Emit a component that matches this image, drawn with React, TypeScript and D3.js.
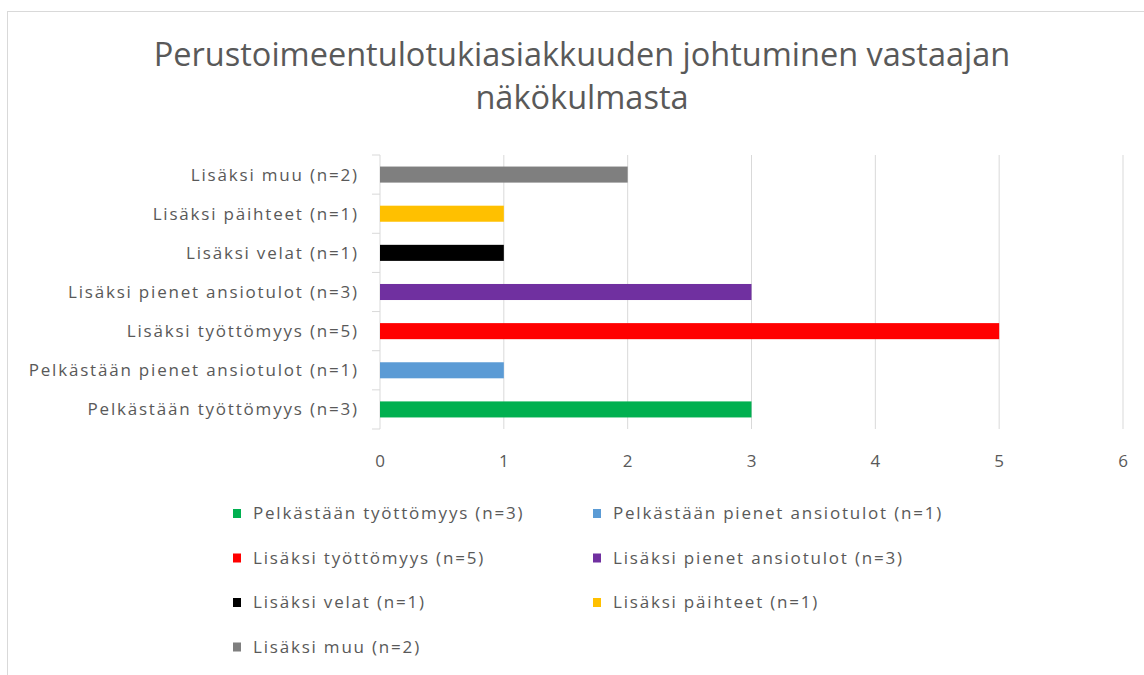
import React from 'react';
import * as d3 from 'd3';

const titleLines = ['Perustoimeentulotukiasiakkuuden johtuminen vastaajan', 'näkökulmasta'];

// data order as in the source sheet (first one is drawn at the bottom)
const categories = [
  'Pelkästään työttömyys (n=3)',
  'Pelkästään pienet ansiotulot (n=1)',
  'Lisäksi työttömyys (n=5)',
  'Lisäksi pienet ansiotulot (n=3)',
  'Lisäksi velat (n=1)',
  'Lisäksi päihteet (n=1)',
  'Lisäksi muu (n=2)',
];
const values = [3, 1, 5, 3, 1, 1, 2];
const colors = ['#00b050', '#5b9bd5', '#ff0000', '#7030a0', '#000000', '#ffc000', '#7f7f7f'];
const xTicks = [0, 1, 2, 3, 4, 5, 6];

const width = 1144;
const height = 675;
const font = '"Open Sans", "Noto Sans", sans-serif';
const textColor = '#595959';
const gridColor = '#d9d9d9';
const labelSize = 17;
const labelSpacing = 1.8; // the original text is rendered quite spaced out

const App = () => {
  const x = d3.scaleLinear().domain([0, 6]).range([380, 1123]);
  const y = d3
    .scaleBand<string>()
    .domain(categories.slice().reverse())
    .range([155, 429])
    .paddingInner(0.59)
    .paddingOuter(0.295);
  const step = y.step();
  const bandTop = (c: string) => (y(c) as number) - y.paddingOuter() * step;

  // legend goes row by row, two columns
  const legendX = d3.scaleOrdinal<number, number>().domain([0, 1]).range([233, 593]);
  const legendY = d3.scaleLinear().domain([0, 3]).range([513.5, 647]);

  return (
    <>
      <style>{`body{margin:0}`}</style>
      <svg width={width} height={height} style={{ display: 'block', background: '#fff' }}>
        <rect x={7.5} y={11.5} width={width} height={height} fill="#fff" stroke={gridColor} />

        {titleLines.map((t, i) => (
          <text
            key={t}
            x={582}
            y={66 + i * 43}
            textAnchor="middle"
            fontFamily={font}
            fontSize={32.5}
            fill={textColor}
          >
            {t}
          </text>
        ))}

        {/* gridlines */}
        {xTicks.slice(1).map(t => (
          <line
            key={t}
            x1={x(t)}
            x2={x(t)}
            y1={155}
            y2={429}
            stroke={gridColor}
            strokeWidth={1}
          />
        ))}

        {/* category axis */}
        <line x1={x(0)} x2={x(0)} y1={155} y2={429} stroke={gridColor} />
        {categories.map(c => (
          <line key={c} x1={x(0) - 8} x2={x(0)} y1={bandTop(c)} y2={bandTop(c)} stroke={gridColor} />
        ))}
        <line x1={x(0) - 8} x2={x(0)} y1={429} y2={429} stroke={gridColor} />

        {categories.map(c => (
          <text
            key={c}
            x={357 + labelSpacing}
            y={(y(c) as number) + y.bandwidth() / 2}
            dy="0.35em"
            textAnchor="end"
            fontFamily={font}
            fontSize={labelSize}
            letterSpacing={labelSpacing}
            fill={textColor}
          >
            {c}
          </text>
        ))}

        {categories.map((c, i) => (
          <rect
            key={c}
            x={x(0)}
            y={y(c)}
            width={x(values[i]) - x(0)}
            height={y.bandwidth()}
            fill={colors[i]}
          />
        ))}

        {xTicks.map(t => (
          <text
            key={t}
            x={x(t)}
            y={467}
            textAnchor="middle"
            fontFamily={font}
            fontSize={labelSize}
            fill={textColor}
          >
            {t}
          </text>
        ))}

        {categories.map((c, i) => {
          const lx = legendX(i % 2);
          const ly = legendY(Math.floor(i / 2));
          return (
            <g key={c}>
              <rect x={lx} y={ly - 4.5} width={8} height={9} fill={colors[i]} />
              <text
                x={lx + 20}
                y={ly}
                dy="0.35em"
                fontFamily={font}
                fontSize={labelSize}
                letterSpacing={labelSpacing}
                fill={textColor}
              >
                {c}
              </text>
            </g>
          );
        })}
      </svg>
    </>
  );
};

export default App;
